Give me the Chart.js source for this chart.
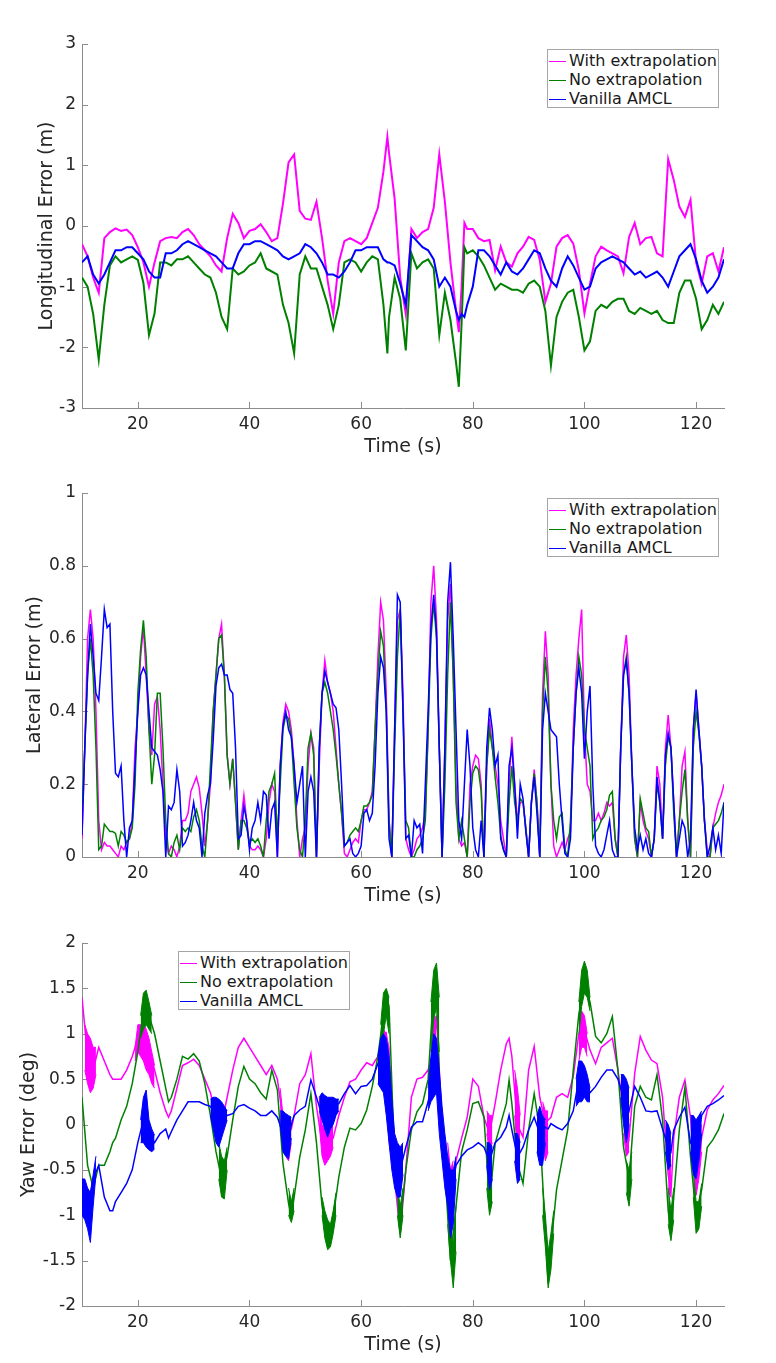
<!DOCTYPE html>
<html lang="en">
<head>
<meta charset="UTF-8">
<title>Localization errors</title>
<script src="https://cdn.jsdelivr.net/npm/chart.js"></script>
<style>
  body { margin: 0; background: #fff; }
  #page { position: relative; width: 776px; height: 1363px; font-family: "DejaVu Sans", sans-serif; }
  #page canvas { position: absolute; left: 0; }
  .legend { position: absolute; width: 172px; height: 59px; box-sizing: border-box; padding-top: 1px;
            background: #fff; border: 1px solid #a6a6a6; font-size: 16px; color: #1a1a1a; }
  .legend div { height: 19px; line-height: 19px; white-space: nowrap; }
  .legend .swatch { display: inline-block; width: 17px; border-top: 1px solid; vertical-align: middle; margin: 0 3px 0 1px; }
</style>
</head>
<body>
<div id="page">
  <canvas id="longChart" width="776" height="460" style="top:0"></canvas>
  <canvas id="latChart" width="776" height="455" style="top:460px"></canvas>
  <canvas id="yawChart" width="776" height="448" style="top:915px"></canvas>
  <div class="legend" id="legLong" style="left:547px; top:49px"></div>
  <div class="legend" id="legLat" style="left:547px; top:498px"></div>
  <div class="legend" id="legYaw" style="left:178px; top:951px"></div>
</div>

<script>
// series names and colours
const seriesNames = ['With extrapolation', 'No extrapolation', 'Vanilla AMCL'];
const seriesColors = ['#ff00ff', '#008000', '#0000ff'];

// axis ticks
const xTicks = [20, 40, 60, 80, 100, 120];
const longTicks = [-3, -2, -1, 0, 1, 2, 3];
const latTicks = [0, 0.2, 0.4, 0.6, 0.8, 1];
const yawTicks = [-2, -1.5, -1, -0.5, 0, 0.5, 1, 1.5, 2];

// longitudinal error (m)
const longTime = [
  10, 11, 12, 13, 14, 15, 16, 17, 18, 19,
  20, 21, 22, 23, 24, 25, 26, 27, 28, 29,
  30, 31, 32, 33, 34, 35, 36, 37, 38, 39,
  40, 41, 42, 43, 44, 45, 46, 47, 48, 49,
  50, 51, 52, 53, 54, 55, 56, 57, 58, 59,
  60, 61, 62, 63, 64, 64.7, 65, 66, 67, 68, 69,
  70, 71, 72, 73, 74, 75, 76, 77, 77.5, 78, 78.5, 79,
  80, 81, 82, 83, 84, 85, 86, 87, 88, 89,
  90, 91, 92, 93, 94, 95, 96, 97, 98, 99,
  100, 101, 102, 103, 104, 105, 106, 107, 108, 109,
  110, 111, 112, 113, 114, 115, 116, 117, 118, 119,
  120, 121, 122, 123, 124, 125
];
const longWith = [
  -0.3, -0.5, -0.85, -1.1, -0.2, -0.1, -0.04, -0.08, -0.06, -0.15,
  -0.35, -0.6, -1.0, -0.6, -0.25, -0.2, -0.18, -0.2, -0.1, -0.05,
  -0.15, -0.3, -0.4, -0.5, -0.65, -0.75, -0.2, 0.2, 0.05, -0.2,
  -0.08, -0.05, 0.03, -0.1, -0.25, -0.2, 0.37, 1.05, 1.18, 0.25,
  0.12, 0.1, 0.4, -0.2, -0.9, -1.45, -0.6, -0.25, -0.2, -0.25,
  -0.3, -0.2, 0.05, 0.3, 0.9, 1.47, 1.2, 0.45, -0.85, -1.45, -0.05,
  -0.2, -0.1, -0.05, 0.3, 1.18, 0.4, -0.6, -1.4, -1.75, -1.0, 0.05, -0.05,
  -0.05, -0.2, -0.25, -0.23, -0.73, -0.34, -0.6, -0.67, -0.45, -0.34,
  -0.18, -0.23, -0.56, -1.25, -0.95, -0.34, -0.2, -0.15, -0.29, -0.73,
  -1.44, -0.95, -0.5, -0.34, -0.4, -0.45, -0.5, -0.78, -0.18, 0.05,
  -0.3, -0.2, -0.18, -0.45, -0.5, 1.1, 0.76, 0.32, 0.15, 0.43,
  -0.6, -0.95, -0.5, -0.45, -0.75, -0.35
];
const longNo = [
  -0.85, -1.0, -1.45, -2.2, -1.3, -0.65, -0.5, -0.6, -0.55, -0.5,
  -0.56, -0.94, -1.8, -1.44, -0.6, -0.6, -0.65, -0.55, -0.55, -0.5,
  -0.6, -0.7, -0.8, -0.85, -1.1, -1.5, -1.7, -0.7, -0.8, -0.75,
  -0.65, -0.6, -0.45, -0.7, -0.75, -0.8, -1.3, -1.6, -2.1, -0.8,
  -0.5, -0.7, -0.7, -1.0, -1.3, -1.7, -1.3, -0.6, -0.55, -0.6,
  -0.75, -0.6, -0.5, -0.55, -1.3, -2.1, -1.5, -0.85, -1.2, -2.05, -0.45,
  -0.7, -0.6, -0.55, -0.7, -1.8, -1.1, -1.55, -2.25, -2.65, -1.6, -0.35, -0.45,
  -0.4, -0.5, -0.65, -0.85, -1.05, -0.95, -1.0, -1.05, -1.05, -1.1,
  -0.95, -0.9, -1.0, -1.4, -2.3, -1.5, -1.25, -1.1, -1.05, -1.5,
  -2.05, -1.9, -1.4, -1.3, -1.35, -1.25, -1.2, -1.2, -1.4, -1.45,
  -1.35, -1.4, -1.45, -1.4, -1.55, -1.6, -1.6, -1.1, -0.9, -0.9,
  -1.2, -1.7, -1.55, -1.3, -1.45, -1.25
];
const longVanilla = [
  -0.6, -0.5, -0.8, -0.95, -0.8, -0.6, -0.4, -0.4, -0.35, -0.35,
  -0.45, -0.55, -0.75, -0.85, -0.85, -0.45, -0.45, -0.4, -0.3, -0.25,
  -0.3, -0.35, -0.4, -0.45, -0.5, -0.6, -0.7, -0.7, -0.45, -0.3,
  -0.3, -0.25, -0.25, -0.3, -0.35, -0.4, -0.5, -0.55, -0.5, -0.45,
  -0.3, -0.35, -0.45, -0.6, -0.8, -0.8, -0.85, -0.75, -0.6, -0.4,
  -0.4, -0.35, -0.35, -0.35, -0.55, -0.6, -0.6, -0.65, -0.95, -1.3, -0.15,
  -0.25, -0.35, -0.4, -0.55, -1.0, -0.85, -1.0, -1.4, -1.55, -1.45, -1.5, -1.3,
  -1.0, -0.4, -0.4, -0.5, -0.65, -0.8, -0.6, -0.75, -0.8, -0.7,
  -0.55, -0.4, -0.45, -0.7, -0.9, -1.0, -0.7, -0.5, -0.65, -0.85,
  -1.05, -1.0, -0.7, -0.6, -0.55, -0.5, -0.55, -0.6, -0.7, -0.8,
  -0.75, -0.85, -0.8, -0.75, -0.85, -1.0, -0.75, -0.5, -0.4, -0.3,
  -0.55, -0.9, -1.1, -1.0, -0.85, -0.55
];

// lateral error (m), every 0.5 s
const latTime = [
  10, 10.5, 11, 11.5, 12, 12.5, 13, 13.5, 14, 14.5,
  15, 15.5, 16, 16.5, 17, 17.5, 18, 18.5, 19, 19.5,
  20, 20.5, 21, 21.5, 22, 22.5, 23, 23.5, 24, 24.5,
  25, 25.5, 26, 26.5, 27, 27.5, 28, 28.5, 29, 29.5,
  30, 30.5, 31, 31.5, 32, 32.5, 33, 33.5, 34, 34.5,
  35, 35.5, 36, 36.5, 37, 37.5, 38, 38.5, 39, 39.5,
  40, 40.5, 41, 41.5, 42, 42.5, 43, 43.5, 44, 44.5,
  45, 45.5, 46, 46.5, 47, 47.5, 48, 48.5, 49, 49.5,
  50, 50.5, 51, 51.5, 52, 52.5, 53, 53.5, 54, 54.5,
  55, 55.5, 56, 56.5, 57, 57.5, 58, 58.5, 59, 59.5,
  60, 60.5, 61, 61.5, 62, 62.5, 63, 63.5, 64, 64.5,
  65, 65.5, 66, 66.5, 67, 67.5, 68, 68.5, 69, 69.5,
  70, 70.5, 71, 71.5, 72, 72.5, 73, 73.5, 74, 74.5,
  75, 75.5, 76, 76.5, 77, 77.5, 78, 78.5, 79, 79.5,
  80, 80.5, 81, 81.5, 82, 82.5, 83, 83.5, 84, 84.5,
  85, 85.5, 86, 86.5, 87, 87.5, 88, 88.5, 89, 89.5,
  90, 90.5, 91, 91.5, 92, 92.5, 93, 93.5, 94, 94.5,
  95, 95.5, 96, 96.5, 97, 97.5, 98, 98.5, 99, 99.5,
  100, 100.5, 101, 101.5, 102, 102.5, 103, 103.5, 104, 104.5,
  105, 105.5, 106, 106.5, 107, 107.5, 108, 108.5, 109, 109.5,
  110, 110.5, 111, 111.5, 112, 112.5, 113, 113.5, 114, 114.5,
  115, 115.5, 116, 116.5, 117, 117.5, 118, 118.5, 119, 119.5,
  120, 120.5, 121, 121.5, 122, 122.5, 123, 123.5, 124, 124.5,
  125
];
const latWith = [
  0.05, 0.3, 0.6, 0.68, 0.6, 0.4, 0.1, 0.02, 0.04, 0.03,
  0.03, 0.02, 0.01, 0.0, 0.03, 0.02, 0.04, 0.05, 0.1, 0.3,
  0.4, 0.55, 0.63, 0.5, 0.35, 0.28, 0.42, 0.44, 0.35, 0.2,
  0.05, 0.01, 0.03, 0.02, 0.0, 0.03, 0.1, 0.1, 0.12, 0.18,
  0.2, 0.22, 0.19, 0.12, 0.03, 0.1, 0.2, 0.4, 0.5, 0.6,
  0.64, 0.5, 0.28, 0.2, 0.27, 0.15, 0.02, 0.1, 0.17, 0.1,
  0.03, 0.02, 0.02, 0.03, 0.02, 0.0, 0.05, 0.15, 0.2, 0.18,
  0.0, 0.25, 0.37, 0.42, 0.4, 0.35, 0.25, 0.1, 0.0, 0.05,
  0.08, 0.25, 0.34, 0.3, 0.0, 0.25, 0.45, 0.54, 0.48, 0.45,
  0.4, 0.3, 0.2, 0.12, 0.01, 0.0, 0.02, 0.04, 0.05, 0.04,
  0.1, 0.13, 0.13, 0.15, 0.18, 0.35, 0.55, 0.7, 0.65, 0.45,
  0.1, 0.0, 0.35, 0.65, 0.68, 0.45, 0.05, 0.02, 0.0, 0.02,
  0.05, 0.06, 0.08, 0.12, 0.35, 0.7, 0.8, 0.65, 0.3, 0.0,
  0.3, 0.65, 0.75, 0.5, 0.2, 0.05, 0.03, 0.04, 0.0, 0.2,
  0.25, 0.28, 0.27, 0.2, 0.0, 0.25, 0.38, 0.3, 0.25, 0.2,
  0.1, 0.05, 0.0, 0.2, 0.33, 0.2, 0.1, 0.15, 0.15, 0.08,
  0.0, 0.15, 0.24, 0.15, 0.0, 0.45, 0.62, 0.5, 0.2, 0.03,
  0.0, 0.02, 0.04, 0.02, 0.05, 0.07, 0.35, 0.5, 0.6, 0.68,
  0.35, 0.2, 0.18, 0.1, 0.1, 0.12, 0.1, 0.12, 0.15, 0.14,
  0.15, 0.05, 0.0, 0.3, 0.55, 0.61, 0.5, 0.25, 0.05, 0.0,
  0.15, 0.1, 0.07, 0.05, 0.0, 0.05, 0.25, 0.2, 0.05, 0.3,
  0.39, 0.3, 0.15, 0.0, 0.1, 0.25, 0.29, 0.1, 0.0, 0.35,
  0.45, 0.35, 0.25, 0.1, 0.02, 0.0, 0.08, 0.12, 0.15, 0.17,
  0.2
];
const latNo = [
  0.12, 0.3, 0.5, 0.6, 0.5, 0.3, 0.02, 0.03, 0.09, 0.08,
  0.07, 0.07, 0.065, 0.03, 0.07, 0.06, 0.04, 0.05, 0.08, 0.2,
  0.45, 0.57, 0.65, 0.55, 0.35, 0.2, 0.28, 0.45, 0.45, 0.3,
  0.1, 0.01, 0.0, 0.04, 0.06, 0.02, 0.08, 0.07, 0.08, 0.07,
  0.11, 0.13, 0.1, 0.03, 0.0, 0.1, 0.25, 0.4, 0.5, 0.6,
  0.61, 0.5, 0.28, 0.2, 0.27, 0.15, 0.02, 0.1, 0.1, 0.08,
  0.04, 0.05, 0.04, 0.05, 0.03, 0.0, 0.1, 0.18, 0.2, 0.23,
  0.05, 0.2, 0.35, 0.39, 0.38, 0.33, 0.2, 0.08, 0.02, 0.0,
  0.1, 0.3, 0.34, 0.28, 0.0, 0.3, 0.45, 0.48, 0.45, 0.4,
  0.35, 0.28, 0.2, 0.12, 0.03, 0.04, 0.06, 0.07, 0.08, 0.07,
  0.1, 0.14, 0.14, 0.15, 0.17, 0.35, 0.5, 0.62, 0.58, 0.4,
  0.1, 0.0, 0.3, 0.55, 0.68, 0.4, 0.1, 0.08, 0.0, 0.0,
  0.02, 0.03, 0.05, 0.1, 0.35, 0.6, 0.7, 0.6, 0.3, 0.0,
  0.2, 0.5, 0.7, 0.5, 0.15, 0.05, 0.1, 0.05, 0.0, 0.15,
  0.23, 0.25, 0.24, 0.18, 0.0, 0.25, 0.35, 0.3, 0.22, 0.15,
  0.06, 0.02, 0.0, 0.15, 0.25, 0.15, 0.1, 0.16, 0.15, 0.08,
  0.0, 0.15, 0.23, 0.15, 0.0, 0.4, 0.55, 0.45, 0.2, 0.1,
  0.05, 0.11, 0.12, 0.02, 0.0, 0.1, 0.3, 0.45, 0.55, 0.5,
  0.35, 0.3, 0.25, 0.05, 0.07, 0.08, 0.1, 0.11, 0.13, 0.17,
  0.18, 0.05, 0.0, 0.3, 0.5, 0.55, 0.45, 0.25, 0.05, 0.0,
  0.16, 0.12, 0.08, 0.07, 0.0, 0.05, 0.2, 0.15, 0.05, 0.25,
  0.33, 0.3, 0.12, 0.0, 0.1, 0.18, 0.24, 0.1, 0.0, 0.3,
  0.4, 0.34, 0.25, 0.1, 0.0, 0.0, 0.08, 0.09, 0.1, 0.12,
  0.15
];
const latVanilla = [
  0.06, 0.3, 0.5, 0.64, 0.55, 0.45, 0.43, 0.55, 0.68, 0.63,
  0.64, 0.4, 0.23, 0.22, 0.25, 0.1, 0.0, 0.08, 0.1, 0.25,
  0.4, 0.5, 0.52, 0.5, 0.4, 0.3, 0.29, 0.28, 0.24, 0.18,
  0.0, 0.14, 0.13, 0.15, 0.24, 0.18, 0.03, 0.04, 0.06, 0.1,
  0.15, 0.1, 0.08, 0.0, 0.12, 0.17, 0.2, 0.32, 0.47, 0.52,
  0.53, 0.5, 0.5, 0.46, 0.45, 0.3, 0.05, 0.06, 0.14, 0.1,
  0.02, 0.08, 0.1, 0.15, 0.1, 0.18, 0.17, 0.05, 0.13, 0.15,
  0.0, 0.25, 0.36, 0.4, 0.35, 0.33, 0.25, 0.15, 0.2, 0.25,
  0.0, 0.18, 0.22, 0.18, 0.0, 0.3, 0.45, 0.51, 0.48, 0.45,
  0.42, 0.41, 0.35, 0.2, 0.03, 0.04, 0.05, 0.01, 0.0, 0.01,
  0.03, 0.12, 0.13, 0.1, 0.12, 0.25, 0.45, 0.55, 0.52, 0.4,
  0.05, 0.0, 0.35, 0.72, 0.7, 0.4, 0.05, 0.06, 0.0, 0.1,
  0.08, 0.09, 0.01, 0.2, 0.4, 0.63, 0.72, 0.62, 0.3, 0.0,
  0.3, 0.7, 0.81, 0.6, 0.35, 0.1, 0.05, 0.2, 0.35, 0.25,
  0.08, 0.02, 0.0, 0.1, 0.0, 0.3, 0.41, 0.35, 0.25, 0.28,
  0.05, 0.02, 0.0, 0.25, 0.3, 0.2, 0.05, 0.2, 0.16, 0.07,
  0.0, 0.15, 0.22, 0.12, 0.0, 0.35, 0.45, 0.4, 0.35, 0.34,
  0.33, 0.2, 0.1, 0.01, 0.0, 0.05, 0.3, 0.45, 0.52, 0.45,
  0.27, 0.4, 0.47, 0.2, 0.03, 0.01, 0.0, 0.02, 0.06, 0.1,
  0.02, 0.0, 0.0, 0.3, 0.5, 0.54, 0.45, 0.25, 0.08, 0.02,
  0.06, 0.02, 0.05, 0.01, 0.0, 0.05, 0.22, 0.15, 0.05, 0.28,
  0.34, 0.3, 0.15, 0.0, 0.05, 0.1, 0.08, 0.0, 0.05, 0.35,
  0.46, 0.35, 0.25, 0.1, 0.0, 0.03, 0.08, 0.02, 0.06, 0.01,
  0.15
];

// yaw error (deg)
const yawTime = [
  10, 11, 12, 13, 14, 15, 15.5, 16, 17, 18, 19,
  20, 21, 22, 23, 24, 25, 25.5, 26, 27, 28, 29,
  30, 31, 32, 33, 34, 35, 36, 37, 38, 39,
  40, 41, 42, 43, 44, 45, 46, 47, 47.5, 48, 49,
  50, 51, 52, 53, 54, 55, 56, 57, 58, 59,
  60, 61, 62, 63, 64, 64.5, 65, 66, 67, 68, 69,
  70, 71, 72, 73, 73.5, 74, 75, 76, 77, 78, 79,
  80, 81, 82, 83, 84, 85, 86, 86.5, 87, 88, 89,
  90, 91, 92, 93, 93.5, 94, 95, 96, 97, 98, 99,
  100, 101, 102, 103, 104, 105, 106, 107, 108, 109,
  110, 111, 112, 113, 114, 115, 115.5, 116, 117, 118, 119,
  120, 121, 122, 123, 124, 125
];
const yawWith = [
  1.4, 0.75, 0.6, 0.85, 0.7, 0.55, 0.5, 0.5, 0.5, 0.6, 0.75,
  0.95, 0.95, 0.8, 0.6, 0.35, 0.15, 0.08, 0.15, 0.4, 0.65, 0.68,
  0.72, 0.65, 0.5, 0.35, 0.1, 0.0, 0.3, 0.6, 0.85, 0.95,
  0.85, 0.75, 0.65, 0.55, 0.65, 0.5, 0.05, -0.1, -0.05, 0.1, 0.45,
  0.55, 0.78, 0.2, -0.2, -0.2, -0.15, 0.1, 0.3, 0.47, 0.5,
  0.6, 0.68, 0.65, 0.75, 0.95, 1.0, 0.5, -0.6, -1.2, -0.5, 0.3,
  0.5, 0.52, 0.6, 0.8, 1.2, 0.6, -0.5, -1.0, -0.4, -0.15, 0.08,
  0.5, 0.42, 0.08, -0.1, 0.23, 0.6, 0.89, 0.95, 0.75, 0.0, -0.14,
  0.6, 0.86, 0.3, 0.01, 0.05, 0.08, 0.3, 0.34, 0.3, 0.53, 1.0,
  1.04, 0.82, 0.67, 0.85, 0.9, 0.95, 0.6, 0.16, -0.14, 0.56,
  0.97, 0.82, 0.71, 0.67, 0.3, -0.55, -0.75, -0.14, 0.3, 0.49, 0.08,
  -0.7, -0.14, 0.16, 0.27, 0.34, 0.43
];
const yawNo = [
  0.3, -0.45, -0.7, -0.45, -0.45, -0.3, -0.2, -0.15, 0.05, 0.2, 0.45,
  0.8, 1.25, 1.2, 1.0, 0.7, 0.4, 0.25, 0.3, 0.5, 0.75, 0.72,
  0.78, 0.7, 0.45, 0.1, -0.3, -0.6, -0.35, 0.05, 0.42, 0.64,
  0.5, 0.45, 0.35, 0.28, 0.6, 0.38, -0.43, -0.87, -1.02, -0.8, -0.36,
  -0.06, 0.34, -0.2, -0.9, -1.28, -1.02, -0.58, -0.25, -0.04, -0.06,
  0.01, 0.16, 0.42, 0.75, 1.22, 1.45, 1.3, -0.4, -1.1, -0.5, -0.06,
  0.14, 0.23, 0.5, 1.5, 1.65, 0.5, -0.5, -1.5, -0.9, -0.3, -0.06,
  0.23, 0.25, 0.08, -0.85, -0.21, 0.01, 0.23, 0.49, 0.23, -0.43, -0.65,
  -0.06, 0.34, -0.06, -1.17, -1.75, -1.35, -0.72, -0.39, -0.06, 0.6, 1.22,
  1.55, 1.35, 0.97, 0.9, 1.0, 1.19, 0.6, -0.25, -0.6, 0.2,
  0.42, 0.3, 0.27, 0.55, 0.05, -0.95, -1.2, -0.8, -0.06, 0.41, -0.36,
  -1.0, -0.72, -0.25, -0.17, -0.06, 0.12
];
const yawVanilla = [
  -0.8, -0.95, -0.6, -0.45, -0.8, -0.95, -0.95, -0.85, -0.75, -0.65, -0.5,
  -0.2, 0.05, -0.12, -0.2, -0.1, -0.05, -0.15, -0.08, 0.05, 0.15, 0.25,
  0.25, 0.25, 0.22, 0.2, 0.1, 0.05, 0.1, 0.12, 0.2, 0.22,
  0.18, 0.15, 0.1, 0.1, 0.15, 0.08, -0.1, -0.14, 0.0, 0.1, 0.16,
  0.2, 0.49, 0.3, 0.1, 0.2, 0.2, 0.23, 0.34, 0.43, 0.34,
  0.42, 0.43, 0.5, 0.67, 0.8, 0.7, 0.3, -0.3, -0.5, -0.25, -0.03,
  0.03, 0.03, 0.25, 0.55, 0.75, 0.3, -0.4, -0.8, -0.45, -0.35, -0.28,
  -0.25, -0.2, -0.25, -0.4, -0.2, -0.14, -0.03, 0.1, -0.06, -0.36, -0.25,
  -0.06, 0.08, -0.1, -0.03, -0.05, 0.01, -0.03, -0.06, 0.01, 0.15, 0.5,
  0.45, 0.35, 0.42, 0.52, 0.6, 0.6, 0.5, 0.3, 0.15, 0.42,
  0.3, 0.15, 0.14, 0.15, -0.05, -0.25, -0.3, -0.06, 0.08, 0.19, -0.2,
  -0.3, 0.1, 0.2, 0.23, 0.27, 0.32
];

// yaw oscillation bands (low / high envelope), null = no band
const yawWithBandTime = [
  10.5, 11, 11.5, 12, 12.5, 13,
  19.5, 20, 20.5, 21, 21.5, 22, 22.5, 23, 24,
  34, 34.5, 35, 36,
  45.5, 46, 46.5, 47, 47.5, 48,
  52.5, 53, 53.5, 54, 54.5, 55, 56,
  64, 64.5, 65, 65.5, 66,
  72.5, 73, 73.5, 74,
  75.5, 76, 76.5, 77,
  82.5, 83, 83.5, 84,
  87.5, 88, 88.5, 89,
  92.5, 93, 93.5, 94,
  99, 99.5, 100, 100.5, 101,
  107, 107.5, 108, 109,
  115, 115.5, 116,
  119.5, 120, 120.5, 121
];
const yawWithBandLow = [
  0.6, 0.45, 0.35, 0.4, 0.55, null,
  0.7, 0.8, 0.75, 0.7, 0.6, 0.55, 0.45, 0.4, null,
  -0.1, -0.2, -0.15, null,
  0.05, -0.3, -0.35, -0.4, -0.2, null,
  0.0, -0.35, -0.45, -0.4, -0.35, -0.25, null,
  0.6, 0.3, -0.2, -0.4, null,
  0.55, 0.5, 0.4, null,
  -0.8, -1.15, -0.9, null,
  -0.1, -0.3, -0.2, null,
  0.1, -0.3, -0.3, null,
  -0.2, -0.4, -0.3, null,
  0.7, 0.85, 0.85, 0.75, null,
  -0.1, -0.35, -0.3, null,
  -0.75, -0.8, null,
  -0.4, -0.78, -0.6, -0.3
];
const yawWithBandHigh = [
  1.1, 1.0, 0.95, 0.85, 0.85, null,
  0.85, 1.1, 1.1, 1.12, 1.05, 0.95, 0.8, 0.65, null,
  0.25, 0.2, 0.15, null,
  0.4, 0.1, 0.05, 0.0, 0.05, null,
  0.3, 0.0, -0.05, -0.05, 0.0, 0.05, null,
  1.05, 1.0, 0.85, 0.3, null,
  0.8, 1.15, 1.2, null,
  -0.2, -0.5, -0.4, null,
  0.15, 0.1, 0.1, null,
  0.6, 0.4, 0.1, null,
  0.25, 0.15, 0.15, null,
  1.2, 1.25, 1.2, 1.0, null,
  0.35, 0.1, 0.05, null,
  -0.4, -0.45, null,
  0.1, -0.2, -0.1, 0.0
];
const yawNoBandTime = [
  20.5, 21, 21.5, 22, 22.5, 23,
  34.5, 35, 35.5, 36, 37,
  47, 47.5, 48, 49,
  53, 53.5, 54, 54.5, 55, 55.5, 56,
  63.5, 64, 64.5, 65, 65.5,
  66.5, 67, 67.5, 68,
  72.5, 73, 73.5, 74, 74.5,
  75.5, 76, 76.5, 77, 78,
  82.5, 83, 83.5, 84,
  92.5, 93, 93.5, 94, 94.5, 95,
  99, 99.5, 100, 100.5, 101, 102,
  107.5, 108, 108.5, 109,
  115, 115.5, 116, 117,
  119.5, 120, 120.5, 121
];
const yawNoBandLow = [
  0.95, 1.05, 1.1, 1.05, 1.0, null,
  -0.6, -0.8, -0.82, -0.5, null,
  -1.0, -1.08, -0.95, null,
  -1.0, -1.25, -1.38, -1.35, -1.2, -1.0, null,
  0.7, 1.0, 1.2, 1.0, null,
  -1.0, -1.25, -1.0, null,
  0.8, 1.15, 1.3, 0.8, null,
  -1.1, -1.5, -1.8, -1.4, null,
  -0.7, -1.0, -0.85, null,
  -1.0, -1.35, -1.8, -1.6, -1.2, null,
  1.0, 1.3, 1.45, 1.4, 1.25, null,
  -0.75, -0.9, -0.6, null,
  -1.1, -1.28, -1.05, null,
  -0.8, -1.2, -1.15, -0.9
];
const yawNoBandHigh = [
  1.2, 1.45, 1.48, 1.35, 1.2, null,
  -0.2, -0.35, -0.4, -0.25, null,
  -0.7, -0.85, -0.7, null,
  -0.8, -0.95, -1.05, -1.1, -0.95, -0.75, null,
  1.1, 1.45, 1.5, 1.4, null,
  -0.7, -0.9, -0.7, null,
  1.35, 1.7, 1.78, 1.4, null,
  -0.8, -1.05, -1.35, -0.9, null,
  -0.4, -0.7, -0.55, null,
  -0.7, -1.0, -1.4, -1.2, -0.95, null,
  1.35, 1.7, 1.8, 1.7, 1.4, null,
  -0.4, -0.5, -0.3, null,
  -0.7, -0.95, -0.7, null,
  -0.5, -0.85, -0.85, -0.65
];
const yawVanillaBandTime = [
  10, 10.5, 11, 11.5, 12, 12.5, 13,
  20.5, 21, 21.5, 22, 22.5, 23, 24,
  33, 33.5, 34, 34.5, 35, 35.5, 36, 37,
  45.5, 46, 46.5, 47, 47.5, 48,
  52.5, 53, 53.5, 54, 54.5, 55, 55.5, 56, 57,
  63, 63.5, 64, 64.5, 65, 65.5, 66, 66.5, 67, 67.5, 68,
  72, 72.5, 73, 73.5, 74, 74.5, 75, 75.5, 76, 76.5, 77, 78,
  82.5, 83, 83.5, 84,
  87.5, 88, 88.5, 89,
  91.5, 92, 92.5, 93, 94,
  98.5, 99, 99.5, 100, 100.5, 101, 102,
  106.5, 107, 107.5, 108, 109,
  114.5, 115, 115.5, 116,
  119, 119.5, 120, 120.5, 121
];
const yawVanillaBandLow = [
  -1.0, -1.05, -1.15, -1.3, -0.9, -0.55, null,
  -0.2, -0.2, -0.25, -0.28, -0.3, -0.27, null,
  0.1, -0.05, -0.2, -0.25, -0.15, -0.05, 0.05, null,
  0.0, -0.3, -0.35, -0.38, -0.15, null,
  0.15, 0.05, -0.05, -0.14, -0.05, 0.0, 0.1, 0.15, null,
  0.45, 0.4, 0.35, 0.1, -0.2, -0.5, -0.7, -0.8, -0.8, -0.55, null,
  0.15, 0.25, 0.3, 0.35, -0.1, -0.4, -0.7, -0.9, -1.25, -1.1, -0.6, null,
  -0.45, -0.72, -0.6, null,
  -0.4, -0.65, -0.6, null,
  -0.3, -0.45, -0.45, -0.2, null,
  0.2, 0.25, 0.25, 0.3, 0.25, 0.25, null,
  0.3, 0.0, -0.2, 0.0, null,
  -0.3, -0.5, -0.45, null,
  -0.3, -0.55, -0.6, -0.4, -0.1
];
const yawVanillaBandHigh = [
  -0.6, -0.6, -0.7, -0.75, -0.55, -0.35, null,
  0.05, 0.3, 0.38, 0.05, -0.05, -0.12, null,
  0.28, 0.3, 0.3, 0.28, 0.25, 0.2, 0.15, null,
  0.15, 0.15, 0.12, 0.1, 0.08, null,
  0.3, 0.35, 0.32, 0.3, 0.3, 0.3, 0.28, 0.28, null,
  0.75, 0.95, 1.0, 0.95, 0.75, 0.3, -0.1, -0.2, -0.25, -0.2, null,
  0.4, 0.75, 1.0, 0.95, 0.6, 0.2, -0.1, -0.35, -0.5, -0.5, -0.35, null,
  -0.2, -0.2, -0.25, null,
  -0.1, -0.1, -0.2, null,
  0.1, 0.2, 0.1, 0.05, null,
  0.5, 0.7, 0.7, 0.65, 0.55, 0.4, null,
  0.55, 0.55, 0.5, 0.4, null,
  0.05, 0.0, -0.1, null,
  0.1, 0.1, 0.05, 0.1, 0.15
];

const fontFamily = '"DejaVu Sans", sans-serif';
const axisColor = '#8c8c8c';
const textColor = '#262626';
Chart.defaults.font.family = fontFamily;

// MATLAB style ticks pointing into the plot
const inwardTicks = {
  id: 'inwardTicks',
  beforeDatasetsDraw(chart) {
    const { ctx, chartArea: a, scales: { x, y } } = chart;
    ctx.save();
    ctx.strokeStyle = axisColor;
    ctx.lineWidth = 1;
    ctx.beginPath();
    x.ticks.forEach(t => {
      const px = Math.round(x.getPixelForValue(t.value)) + 0.5;
      ctx.moveTo(px, a.bottom);
      ctx.lineTo(px, a.bottom - 6);
    });
    y.ticks.forEach(t => {
      const py = Math.round(y.getPixelForValue(t.value)) + 0.5;
      ctx.moveTo(a.left, py);
      ctx.lineTo(a.left + 6, py);
    });
    ctx.stroke();
    ctx.restore();
  }
};

// envelope bands: one low/high dataset pair per run of non-null values
function bandDatasets(time, low, high, i, nSeries) {
  const out = [];
  let seg = [];
  const flush = () => {
    if (seg.length > 1) {
      const common = { borderColor: seriesColors[i], backgroundColor: seriesColors[i], borderWidth: 1,
                       pointRadius: 0, tension: 0, order: nSeries - i };
      out.push(Object.assign({ data: seg.map(j => ({ x: time[j], y: low[j] })), fill: false }, common));
      out.push(Object.assign({ data: seg.map(j => ({ x: time[j], y: high[j] })), fill: '-1' }, common));
    }
    seg = [];
  };
  time.forEach((t, j) => { if (low[j] === null) flush(); else seg.push(j); });
  flush();
  return out;
}

function makeChart(id, time, series, yMin, yMax, yTicks, yTitle, geo, bands) {
  let datasets = series.map((vals, i) => ({
    label: seriesNames[i],
    data: time.map((t, j) => ({ x: t, y: vals[j] })),
    borderColor: seriesColors[i],
    backgroundColor: seriesColors[i],
    borderWidth: geo.lineW,
    pointRadius: 0,
    tension: 0,
    fill: false,
    order: series.length - i
  }));
  (bands || []).forEach((b, i) => {
    datasets = datasets.concat(bandDatasets(b[0], b[1], b[2], i, series.length));
  });

  return new Chart(document.getElementById(id), {
    type: 'line',
    data: { datasets },
    plugins: [inwardTicks],
    options: {
      responsive: false,
      animation: false,
      events: [],
      layout: { padding: { top: geo.top, right: 52, bottom: 0, left: 0 } },
      plugins: { legend: { display: false }, tooltip: { enabled: false } },
      scales: {
        x: {
          type: 'linear',
          min: 10,
          max: 125,
          afterBuildTicks: s => { s.ticks = xTicks.map(v => ({ value: v })); },
          afterFit: s => { s.height = geo.xAxisH; },
          grid: { display: false, drawTicks: false },
          border: { display: true, color: axisColor, width: 1 },
          ticks: { color: textColor, font: { size: 17 }, padding: 6, maxRotation: 0, autoSkip: false,
                   callback: v => String(v) },
          title: { display: true, text: 'Time (s)', color: textColor, font: { size: 19 },
                   padding: { top: 0, bottom: geo.xTitlePad } }
        },
        y: {
          type: 'linear',
          min: yMin,
          max: yMax,
          afterBuildTicks: s => { s.ticks = yTicks.map(v => ({ value: v })); },
          afterFit: s => { s.width = 82; },
          grid: { display: false, drawTicks: false },
          border: { display: true, color: axisColor, width: 1 },
          ticks: { color: textColor, font: { size: 17 }, padding: 6, autoSkip: false,
                   callback: v => String(v) },
          title: { display: true, text: yTitle, color: textColor, font: { size: 19 },
                   padding: { top: geo.yTitlePad, bottom: 0 } }
        }
      }
    }
  });
}

makeChart('longChart', longTime, [longWith, longNo, longVanilla], -3, 3, longTicks,
  'Longitudinal Error (m)', { top: 44, xAxisH: 52, xTitlePad: 2, yTitlePad: 36, lineW: 2 });
makeChart('latChart', latTime, [latWith, latNo, latVanilla], 0, 1, latTicks,
  'Lateral Error (m)', { top: 33, xAxisH: 58, xTitlePad: 8, yTitlePad: 24, lineW: 1.5 });
makeChart('yawChart', yawTime, [yawWith, yawNo, yawVanilla], -2, 2, yawTicks,
  'Yaw Error (deg)', { top: 28, xAxisH: 57, xTitlePad: 7, yTitlePad: 18, lineW: 1.5 },
  [[yawWithBandTime, yawWithBandLow, yawWithBandHigh],
   [yawNoBandTime, yawNoBandLow, yawNoBandHigh],
   [yawVanillaBandTime, yawVanillaBandLow, yawVanillaBandHigh]]);

// legends
['legLong', 'legLat', 'legYaw'].forEach(id => {
  const box = document.getElementById(id);
  seriesNames.forEach((name, i) => {
    const row = document.createElement('div');
    const sw = document.createElement('span');
    sw.className = 'swatch';
    sw.style.borderColor = seriesColors[i];
    row.appendChild(sw);
    row.appendChild(document.createTextNode(name));
    box.appendChild(row);
  });
});
</script>
</body>
</html>
